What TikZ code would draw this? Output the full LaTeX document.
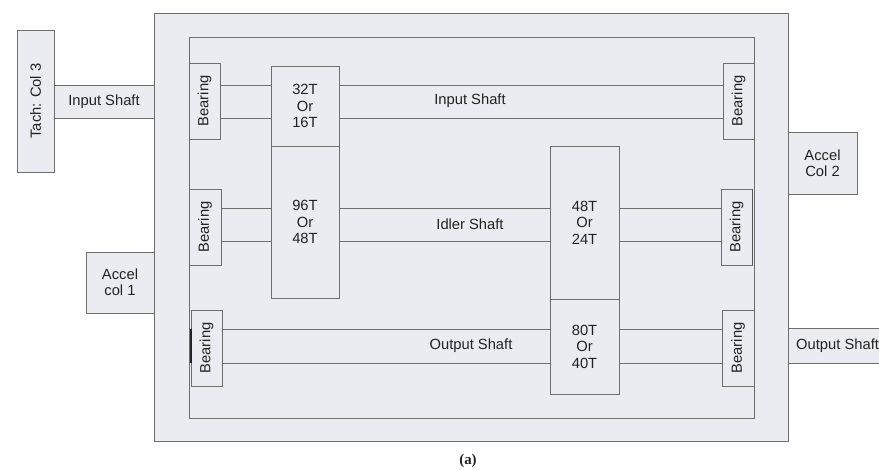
\documentclass[tikz,border=0pt]{standalone}
\usepackage{fontspec}
\setmainfont{Liberation Sans}
\newfontfamily\capfont{Liberation Serif}
\definecolor{boxfill}{HTML}{EBECF1}
\definecolor{edge}{HTML}{6E6E6E}
\definecolor{ink}{HTML}{222222}
\begin{document}
\begin{tikzpicture}[x=1bp,y=-1bp,
  box/.style={draw=edge, fill=boxfill, line width=0.9bp, inner sep=0pt, text=ink,
    font=\fontsize{14.8}{16.5}\selectfont, align=center},
  brg/.style={box, minimum width=31bp, minimum height=76bp},
  gear/.style={box, minimum width=68bp},
  shaft/.style={draw=edge, line width=0.9bp},
  lbl/.style={text=ink, font=\fontsize{14.8}{16.5}\selectfont, inner sep=0pt}
]
\useasboundingbox (0,0) rectangle (879,470);
\fill[white] (0,0) rectangle (879,470);
% external connections
\node[box, minimum width=100bp, minimum height=33bp] (inext) at (104,101.5) {Input Shaft};
\node[box, minimum width=37bp, minimum height=142bp] (tach) at (35.5,101) {\rotatebox{90}{Tach: Col 3}};
\node[box, minimum width=68bp, minimum height=61bp] (acc1) at (120,282.5) {Accel\\col 1};
\node[box, minimum width=69bp, minimum height=62bp] (acc2) at (822.5,163) {Accel\\Col 2};
\node[draw=none, fill=boxfill, minimum width=91bp, minimum height=34bp, inner sep=0pt] (outext) at (833.5,346) {};
\draw[shaft] (outext.north east) -- (outext.north west) -- (outext.south west) -- (outext.south east);
\node[lbl, anchor=west] (outlbl) at (796,346) {Output Shaft};
% housing
\node[box, minimum width=634bp, minimum height=428bp] (outer) at (471,227) {};
\node[box, minimum width=565bp, minimum height=381bp] (inner) at (471.5,227.5) {};
% bearings
\node[brg] (bTL) at (204.5,101) {\rotatebox{90}{Bearing}};
\node[brg, minimum width=32bp] (bML) at (205,227) {\rotatebox{90}{Bearing}};
\node[brg] (bBL) at (206.5,348) {\rotatebox{90}{Bearing}};
\node[brg] (bTR) at (738.5,101) {\rotatebox{90}{Bearing}};
\node[brg] (bMR) at (736.5,227) {\rotatebox{90}{Bearing}};
\node[brg, minimum width=32bp] (bBR) at (738,348) {\rotatebox{90}{Bearing}};
% gears
\node[gear, minimum height=80bp] (g32) at (305,106) {32T\\Or\\16T};
\node[gear, minimum height=152bp] (g96) at (305,222) {96T\\Or\\48T};
\node[gear, minimum width=69bp, minimum height=153bp] (g48) at (584.5,222.5) {48T\\Or\\24T};
\node[gear, minimum width=69bp, minimum height=95bp] (g80) at (584.5,346.5) {80T\\Or\\40T};
% shafts
\foreach \yy in {85,118} {
  \draw[shaft] (bTL.east |- 0,\yy) -- (g32.west |- 0,\yy);
  \draw[shaft] (g32.east |- 0,\yy) -- (bTR.west |- 0,\yy);
}
\foreach \yy in {208,241} {
  \draw[shaft] (bML.east |- 0,\yy) -- (g96.west |- 0,\yy);
  \draw[shaft] (g96.east |- 0,\yy) -- (g48.west |- 0,\yy);
  \draw[shaft] (g48.east |- 0,\yy) -- (bMR.west |- 0,\yy);
}
\foreach \yy in {329,363} {
  \draw[shaft] (bBL.east |- 0,\yy) -- (g80.west |- 0,\yy);
  \draw[shaft] (g80.east |- 0,\yy) -- (bBR.west |- 0,\yy);
}
% thick edges
\draw[line width=2bp, draw=ink] (bBL.west |- 0,329) -- (bBL.west |- 0,363);
\draw[line width=1.6bp, draw=edge!80!black] (bMR.north east) -- (bMR.south east);
% shaft labels
\node[lbl] (lin) at (470,101) {Input Shaft};
\node[lbl] (lid) at (470,224) {Idler Shaft};
\node[lbl] (lout) at (471,346) {Output Shaft};
% caption
\node[text=ink, font=\capfont\bfseries\fontsize{15}{17}\selectfont, inner sep=0pt] (cap) at (468,461) {(a)};
\end{tikzpicture}
\end{document}
